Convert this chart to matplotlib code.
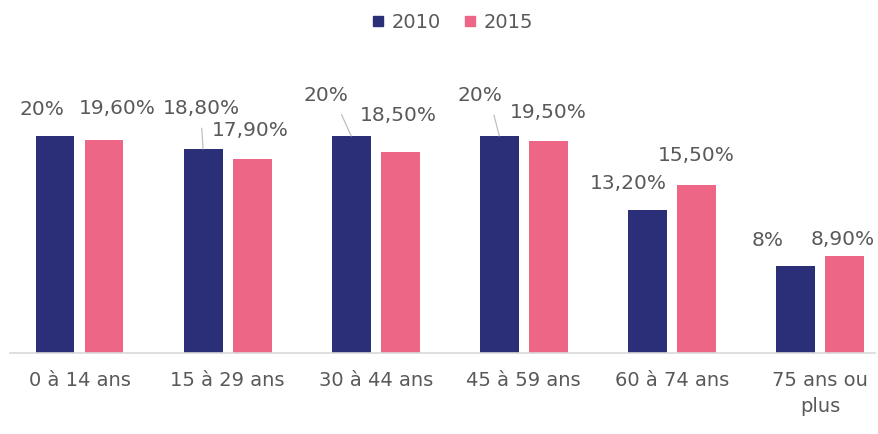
import matplotlib
matplotlib.use("Agg")
import matplotlib.pyplot as plt
import numpy as np
from matplotlib.lines import Line2D

# data
categories = ["0 à 14 ans", "15 à 29 ans", "30 à 44 ans", "45 à 59 ans",
              "60 à 74 ans", "75 ans ou\nplus"]
values_2010 = [20.0, 18.8, 20.0, 20.0, 13.2, 8.0]
values_2015 = [19.6, 17.9, 18.5, 19.5, 15.5, 8.9]
labels_2010 = ["20%", "18,80%", "20%", "20%", "13,20%", "8%"]
labels_2015 = ["19,60%", "17,90%", "18,50%", "19,50%", "15,50%", "8,90%"]

NAVY = "#2b2f77"
PINK = "#ee6685"
TXT = "#595959"

# label offsets from bar top (pixels), and which get a leader line
off_2010 = [(-13, 26), (-2, 40), (-25, 40), (-19, 40), (-19, 26), (-28, 26)]
off_2015 = [(13, 32), (-2, 28), (-2, 37), (0, 29), (0, 29), (-2, 17)]
leader_2010 = [False, True, True, True, False, False]

fig = plt.figure(figsize=(8.79, 4.34), dpi=100)
ax = fig.add_axes([10 / 879, 81 / 434, 865 / 879, 293 / 434])

x = np.arange(len(categories))
w = 0.263
d = 0.1655
b1 = ax.bar(x - d, values_2010, w, color=NAVY, label="2010")
b2 = ax.bar(x + d, values_2015, w, color=PINK, label="2015")

for i in range(len(categories)):
    kw = {}
    if leader_2010[i]:
        rel = (0.5, 0.0) if off_2010[i][0] > -10 else (0.75, 0.0)
        kw["arrowprops"] = dict(arrowstyle="-", color="#bfbfbf", lw=0.9,
                                relpos=rel, shrinkA=5, shrinkB=0)
    ax.annotate(labels_2010[i], xy=(x[i] - d, values_2010[i]),
                xytext=off_2010[i], textcoords="offset pixels",
                ha="center", va="center", fontsize=14.5, color=TXT, **kw)
    ax.annotate(labels_2015[i], xy=(x[i] + d, values_2015[i]),
                xytext=off_2015[i], textcoords="offset pixels",
                ha="center", va="center", fontsize=14.5, color=TXT)

ax.set_xlim((10 - 79.5) / 148.1, (875 - 79.5) / 148.1)
ax.set_ylim(0, 27)
ax.set_xticks(x)
ax.set_xticklabels(categories, fontsize=14, color=TXT, linespacing=1.45)
ax.tick_params(axis="x", length=0, pad=13)
ax.set_yticks([])
for s in ["top", "right", "left"]:
    ax.spines[s].set_visible(False)
ax.spines["bottom"].set_color("#d9d9d9")
ax.spines["bottom"].set_linewidth(1.2)

handles = [Line2D([], [], marker="s", linestyle="none", color=NAVY, markersize=7),
           Line2D([], [], marker="s", linestyle="none", color=PINK, markersize=7)]
fig.legend(handles, ["2010", "2015"], loc="center", bbox_to_anchor=(453 / 879, 1 - 22 / 434),
           ncol=2, frameon=False, fontsize=14, labelcolor=TXT,
           handlelength=0.6, handletextpad=0.4, columnspacing=1.2)

fig.savefig("out.png", dpi=100)
